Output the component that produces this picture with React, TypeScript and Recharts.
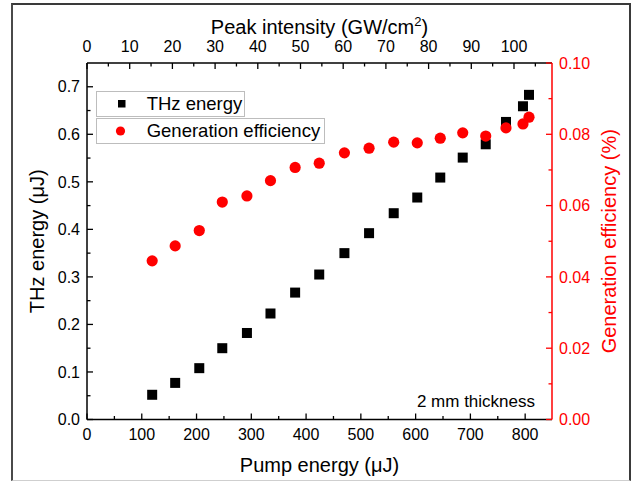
import React from 'react';
import { ScatterChart, Scatter, XAxis, YAxis, Legend, Label, Customized } from 'recharts';

// Pump energy (µJ) for each measurement
const pumpEnergy = [119, 161, 205, 247, 292, 335, 380, 424, 470, 515, 560, 603, 645, 686, 728, 765, 796, 807];
// THz energy (µJ)
const thzEnergy = [0.052, 0.077, 0.108, 0.150, 0.182, 0.223, 0.267, 0.305, 0.350, 0.392, 0.434, 0.467, 0.509, 0.551, 0.579, 0.626, 0.659, 0.683];
// Generation efficiency (%)
const genEfficiency = [0.0445, 0.0487, 0.0530, 0.0610, 0.0627, 0.0670, 0.0707, 0.0719, 0.0748, 0.0761, 0.0778, 0.0776, 0.0789, 0.0804, 0.0795, 0.0818, 0.0829, 0.0848];

// Tick values
const bottomMajor = [0, 100, 200, 300, 400, 500, 600, 700, 800];
const bottomMinor = [50, 150, 250, 350, 450, 550, 650, 750];
const topMajor = [0, 10, 20, 30, 40, 50, 60, 70, 80, 90, 100];
const topMinor = [5, 15, 25, 35, 45, 55, 65, 75, 85, 95, 105];
const leftMajor = [0, 0.1, 0.2, 0.3, 0.4, 0.5, 0.6, 0.7];
const leftMinor = [0.05, 0.15, 0.25, 0.35, 0.45, 0.55, 0.65];
const rightMajor = [0, 0.02, 0.04, 0.06, 0.08, 0.1];
const rightMinor = [0.01, 0.03, 0.05, 0.07, 0.09];

const thzData = pumpEnergy.map((p, i) => ({ pump: p, value: thzEnergy[i] }));
const effData = pumpEnergy.map((p, i) => ({ pump: p, value: genEfficiency[i] }));
// invisible anchor points so the secondary (top) intensity axis gets a scale
const topAnchor = topMajor.map((v) => ({ peak: v, value: 0 }));

const FONT = '"Liberation Sans", Arial, sans-serif';
const RED = '#ff0000';

type Side = 'bottom' | 'top' | 'left' | 'right';

function makeTick(side: Side, majors: number[], fmt: (v: number) => string, color: string) {
  const majorSet = new Set(majors);
  return (props: any) => {
    const { x, y, payload } = props;
    const v = payload.value;
    const isMajor = majorSet.has(v);
    const len = isMajor ? 6 : 3.5;
    let line: React.ReactNode = null;
    let label: React.ReactNode = null;
    const common = { fill: color, fontSize: 16, fontFamily: FONT };
    if (side === 'bottom') {
      line = <line x1={x} y1={y} x2={x} y2={y - len} stroke={color} strokeWidth={1.3} />;
      if (isMajor) label = <text x={x} y={y + 20.5} textAnchor="middle" {...common}>{fmt(v)}</text>;
    } else if (side === 'top') {
      line = <line x1={x} y1={y} x2={x} y2={y + len} stroke={color} strokeWidth={1.3} />;
      if (isMajor) label = <text x={x} y={y - 11} textAnchor="middle" {...common}>{fmt(v)}</text>;
    } else if (side === 'left') {
      line = <line x1={x} y1={y} x2={x + len} y2={y} stroke={color} strokeWidth={1.3} />;
      if (isMajor) label = <text x={x - 7} y={y + 5.7} textAnchor="end" {...common}>{fmt(v)}</text>;
    } else {
      line = <line x1={x} y1={y} x2={x - len} y2={y} stroke={color} strokeWidth={1.3} />;
      if (isMajor) label = <text x={x + 7} y={y + 5.7} textAnchor="start" {...common}>{fmt(v)}</text>;
    }
    return (
      <g>
        {line}
        {label}
      </g>
    );
  };
}

const SquareShape = (p: any) => <rect x={p.cx - 5} y={p.cy - 5} width={10} height={10} fill="#000" />;
const CircleShape = (p: any) => <circle cx={p.cx} cy={p.cy} r={5.6} fill={RED} />;
const NoShape = () => <g />;

const LegendBox = () => (
  <svg width={232} height={56} style={{ display: 'block' }}>
    <rect x={0.5} y={0.5} width={148} height={25} fill="#fff" stroke="#bdbdbd" strokeWidth={1} />
    <rect x={0.5} y={27.5} width={228} height={25} fill="#fff" stroke="#bdbdbd" strokeWidth={1} />
    <rect x={22} y={9} width={7.5} height={7.5} fill="#000" />
    <text x={50.7} y={18.8} fontSize={18.5} fontFamily={FONT} fill="#000">THz energy</text>
    <circle cx={24.5} cy={40} r={4.6} fill={RED} />
    <text x={50.7} y={46} fontSize={18.5} fontFamily={FONT} fill="#000">Generation efficiency</text>
  </svg>
);

export default function App() {
  return (
    <div style={{ position: 'absolute', left: 0, top: 0, width: 636, height: 483, background: '#fff' }}>
      <div
        style={{
          position: 'absolute',
          left: 11,
          top: 3,
          width: 620,
          height: 478,
          boxSizing: 'border-box',
          borderLeft: '2px solid #4a4a4a',
          borderTop: '2px solid #3a3a3a',
          borderRight: '2px solid #3a3a3a',
          borderBottom: '1px solid #cfcfcf',
        }}
      />
      <div style={{ position: 'absolute', left: 0, top: 0 }}>
        <ScatterChart width={636} height={483} margin={{ top: 0, right: 0, bottom: 0, left: 0 }}>
          <XAxis
            xAxisId="bottom"
            dataKey="pump"
            type="number"
            orientation="bottom"
            domain={[0, 849]}
            ticks={[...bottomMajor, ...bottomMinor]}
            interval={0}
            height={63.5}
            tickSize={0}
            tickMargin={0}
            tickLine={false}
            axisLine={{ stroke: '#000', strokeWidth: 1.5 }}
            tick={makeTick('bottom', bottomMajor, (v) => String(v), '#000')}
          >
            <Label
              content={(props: any) => {
                const vb = props.viewBox;
                return (
                  <text x={vb.x + vb.width / 2} y={vb.y + 52.5} textAnchor="middle" fontSize={20} fontFamily={FONT} fill="#000">
                    Pump energy (μJ)
                  </text>
                );
              }}
            />
          </XAxis>
          <XAxis
            xAxisId="top"
            dataKey="peak"
            type="number"
            orientation="top"
            domain={[0, 108.9]}
            allowDataOverflow
            ticks={[...topMajor, ...topMinor]}
            interval={0}
            height={63}
            tickSize={0}
            tickMargin={0}
            tickLine={false}
            axisLine={{ stroke: '#000', strokeWidth: 1.5 }}
            tick={makeTick('top', topMajor, (v) => String(v), '#000')}
          >
            <Label
              content={(props: any) => {
                const vb = props.viewBox;
                return (
                  <text x={vb.x + vb.width / 2} y={34} textAnchor="middle" fontSize={20} fontFamily={FONT} fill="#000">
                    Peak intensity (GW/cm
                    <tspan fontSize={13} dy={-8}>2</tspan>
                    <tspan dy={8}>)</tspan>
                  </text>
                );
              }}
            />
          </XAxis>
          <YAxis
            yAxisId="left"
            dataKey="value"
            type="number"
            orientation="left"
            domain={[0, 0.75]}
            ticks={[...leftMajor, ...leftMinor]}
            interval={0}
            width={87}
            tickSize={0}
            tickMargin={0}
            tickLine={false}
            axisLine={{ stroke: '#000', strokeWidth: 1.5 }}
            tick={makeTick('left', leftMajor, (v) => v.toFixed(1), '#000')}
          >
            <Label
              content={(props: any) => {
                const vb = props.viewBox;
                const cy = vb.y + vb.height / 2;
                return (
                  <text x={44} y={cy} transform={`rotate(-90, 44, ${cy})`} textAnchor="middle" fontSize={20} fontFamily={FONT} fill="#000">
                    THz energy (μJ)
                  </text>
                );
              }}
            />
          </YAxis>
          <YAxis
            yAxisId="right"
            dataKey="value"
            type="number"
            orientation="right"
            domain={[0, 0.1]}
            ticks={[...rightMajor, ...rightMinor]}
            interval={0}
            width={84}
            tickSize={0}
            tickMargin={0}
            tickLine={false}
            axisLine={{ stroke: RED, strokeWidth: 1.5 }}
            tick={makeTick('right', rightMajor, (v) => v.toFixed(2), RED)}
          >
            <Label
              content={(props: any) => {
                const vb = props.viewBox;
                const cy = vb.y + vb.height / 2;
                return (
                  <text x={616} y={cy} transform={`rotate(-90, 616, ${cy})`} textAnchor="middle" fontSize={20} fontFamily={FONT} fill={RED}>
                    Generation efficiency (%)
                  </text>
                );
              }}
            />
          </YAxis>
          <Scatter
            name="intensity-axis"
            data={topAnchor}
            xAxisId="top"
            yAxisId="left"
            shape={NoShape}
            legendType="none"
            isAnimationActive={false}
          />
          <Scatter
            name="THz energy"
            data={thzData}
            xAxisId="bottom"
            yAxisId="left"
            shape={SquareShape}
            isAnimationActive={false}
          />
          <Scatter
            name="Generation efficiency"
            data={effData}
            xAxisId="bottom"
            yAxisId="right"
            shape={CircleShape}
            isAnimationActive={false}
          />
          <Legend
            layout="vertical"
            align="center"
            verticalAlign="middle"
            wrapperStyle={{ left: 96, top: 90.5, width: 'auto', height: 'auto' }}
            content={() => <LegendBox />}
          />
          <Customized
            component={() => (
              <text x={535} y={407} textAnchor="end" fontSize={17} fontFamily={FONT} fill="#000">
                2 mm thickness
              </text>
            )}
          />
        </ScatterChart>
      </div>
    </div>
  );
}
